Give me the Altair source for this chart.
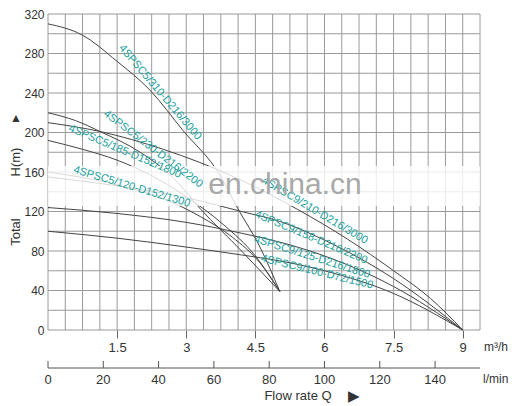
import numpy as np
import pandas as pd
import altair as alt

# pump curves: flow Q in m3/h, total head H in m
q_5_310 = [0, 0.73, 1.5, 2.21, 2.93, 3.73, 4.12, 4.6, 5.03]
h_5_310 = [310, 299, 272, 243, 202, 157, 123, 84, 39]
q_5_230 = [0, 0.6, 1.13, 2.0, 2.7, 3.3, 4.2, 5.03]
h_5_230 = [220, 212, 201, 180, 155, 123, 80, 39]
q_5_185 = [0, 0.75, 1.5, 2.3, 3.0, 3.8, 4.5, 5.03]
h_5_185 = [192, 183, 172, 155, 135, 107, 75, 39]
q_5_120 = [0, 0.8, 1.6, 2.5, 3.3, 4.0, 4.6, 5.03]
h_5_120 = [160, 154, 146, 133, 115, 94, 68, 39]
q_9_210 = [0, 1.13, 2.5, 4.09, 5.42, 6.5, 7.5, 8.3, 9]
h_9_210 = [210, 201, 183, 154, 122, 92, 60, 32, 0]
q_9_158 = [0, 1.5, 3.0, 4.2, 5.03, 6.0, 7.5, 9]
h_9_158 = [155, 146, 134, 120, 110, 91, 52, 0]
q_9_125 = [0, 1.5, 3.0, 4.2, 5.03, 6.0, 7.5, 9]
h_9_125 = [124, 118, 109, 98, 89, 75, 44, 0]
q_9_100 = [0, 1.5, 3.0, 4.2, 5.03, 6.0, 7.5, 9]
h_9_100 = [100, 93, 84, 76, 70, 60, 37, 0]

models = ["4SPSC5/310-D216/3000", "4SPSC5/230-D216/2200", "4SPSC5/185-D152/1800",
          "4SPSC5/120-D152/1300", "4SPSC9/210-D216/3000", "4SPSC9/158-D216/2200",
          "4SPSC9/125-D216/1800", "4SPSC9/100-D72/1500"]
curves = [(q_5_310, h_5_310), (q_5_230, h_5_230), (q_5_185, h_5_185), (q_5_120, h_5_120),
          (q_9_210, h_9_210), (q_9_158, h_9_158), (q_9_125, h_9_125), (q_9_100, h_9_100)]
# where along each curve the model name sits, and how far above it (px)
label_q = [2.43, 2.28, 1.67, 1.82, 5.79, 5.71, 5.73, 5.84]
label_lift = [10, 13, 12, 2, 9, -3, -5, -3]

# axis ticks
m3h_grid = [i * 0.375 for i in range(26)]
m3h_ticks = [1.5, 3, 4.5, 6, 7.5, 9]
head_grid = list(range(0, 321, 20))
head_ticks = list(range(0, 321, 40))
lpm_ticks = [0, 20, 40, 60, 80, 100, 120, 140]

W, H = 432, 316
QMAX, HMAX = 9.375, 320

rows = []
for name, (qs, hs) in zip(models, curves):
    for q, h in zip(qs, hs):
        rows.append({"model": name, "q": q, "h": h})
df = pd.DataFrame(rows)

# label anchor + angle following the curve on screen
sx, sy = W / QMAX, H / HMAX
lab = []
for name, (qs, hs), lq, lift in zip(models, curves, label_q, label_lift):
    h0 = np.interp(lq, qs, hs)
    slope = (np.interp(lq - 0.3, qs, hs) - np.interp(lq + 0.3, qs, hs)) / 0.6
    ang = float(np.degrees(np.arctan(slope * sy / sx)))
    lab.append({"model": name, "q": lq, "h": float(h0) + lift / sy, "ang": ang})
lab_df = pd.DataFrame(lab)

FONT = "Liberation Sans"

x_axis = alt.Axis(
    values=m3h_ticks, grid=False, domain=False, labelExpr="'' + datum.value",
    tickSize=8, tickColor="#666", labelFontSize=13, labelColor="#333", labelFont=FONT,
    labelPadding=3, labelFlush=False, labelOverlap=False, title=None,
)
y_axis = alt.Axis(
    values=head_ticks, grid=False, domain=False, ticks=False,
    labelFontSize=12, labelColor="#333", labelFont=FONT, labelPadding=4,
    labelOverlap=False, title=None,
)
xs = alt.Scale(domain=[0, QMAX], nice=False, zero=False)
ys = alt.Scale(domain=[0, HMAX], nice=False)
X = alt.X("q:Q", scale=xs, axis=x_axis)
Y = alt.Y("h:Q", scale=ys, axis=y_axis)

GRID = "#9a9a9a"
vgrid = alt.Chart(pd.DataFrame({"q": m3h_grid})).mark_rule(color=GRID, strokeWidth=1).encode(
    x=X, y=alt.value(0), y2=alt.value(H)
)
hgrid = alt.Chart(pd.DataFrame({"h": head_grid})).mark_rule(color=GRID, strokeWidth=1).encode(
    y=Y, x=alt.value(0), x2=alt.value(W)
)

lines = alt.Chart(df).mark_line(interpolate="monotone", color="#444", strokeWidth=1).encode(
    x=X, y=Y, detail="model:N"
)

names = alt.Chart(lab_df).mark_text(
    font=FONT, fontSize=11, color="#18a09b", align="center", baseline="middle"
).encode(
    x=X, y=Y, text="model:N", angle=alt.Angle("ang:Q", scale=None)
)

# second flow axis in l/min
lpm_df = pd.DataFrame({"lpm": lpm_ticks})
lpm_line = alt.Chart(lpm_df.head(1)).mark_rule(color="#555", strokeWidth=1).encode(
    x=alt.value(0), x2=alt.value(W), y=alt.value(354)
)
lpm_tick = alt.Chart(lpm_df).transform_calculate(q="datum.lpm * 0.06").mark_rule(
    color="#555", strokeWidth=1
).encode(x=X, y=alt.value(347), y2=alt.value(354))
lpm_text = alt.Chart(lpm_df).transform_calculate(q="datum.lpm * 0.06").mark_text(
    font=FONT, fontSize=13, color="#333", baseline="middle"
).encode(x=X, y=alt.value(366), text="lpm:Q")

one = pd.DataFrame({"k": [0]})


def note(txt, x, y, size=12, angle=0, align="center", color="#333"):
    return alt.Chart(one).mark_text(
        font=FONT, fontSize=size, color=color, angle=angle, align=align, baseline="middle"
    ).encode(x=alt.value(x), y=alt.value(y), text=alt.value(txt))


# blurred site watermark band
band = alt.Chart(one).mark_rect(color="white", opacity=0.8).encode(
    x=alt.value(0), x2=alt.value(W), y=alt.value(152), y2=alt.value(192)
)

texts = [
    note("m³/h", 436, 333, 12, align="left"),
    note("l/min", 435, 365, 12, align="left"),
    note("Flow rate Q", 250, 382, 13),
    note("▶", 306, 382, 15),
    note("Total", -32, 218, 13, angle=270),
    note("H(m)", -32, 148, 13, angle=270),
    note("▲", -32, 104, 12),
    note("en.china.cn", 237, 171, 30, color="#a8a8a8"),
]

chart = alt.layer(vgrid, hgrid, lines, band, names, lpm_line, lpm_tick, lpm_text, *texts).properties(
    width=W, height=H,
    padding={"left": 40, "top": 6, "right": 44, "bottom": 74},
    autosize=alt.AutoSizeParams(type="none"),
    background="white",
).configure_view(strokeWidth=0)

chart.save("out.html", embed_options={"renderer": "svg", "actions": False})
